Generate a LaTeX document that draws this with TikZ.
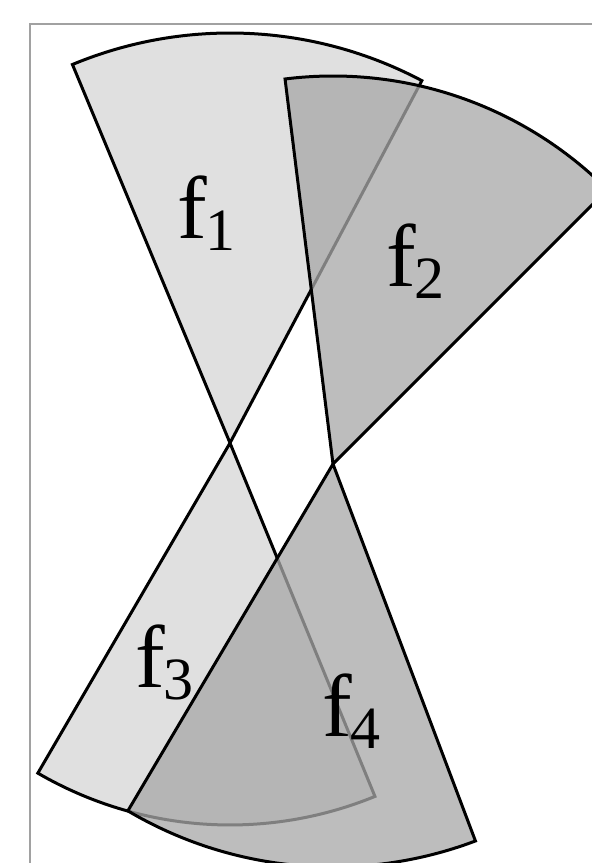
\documentclass[tikz,border=0pt]{standalone}
\usepackage{fontspec}
\setmainfont{Liberation Serif}
\usetikzlibrary{positioning}

\newcommand{\flab}[1]{f\kern-1pt\raisebox{-6pt}{\fontsize{30}{30}\selectfont #1}}

\begin{document}
\begin{tikzpicture}[x=0.5pt, y=0.5pt,
  lightsec/.style={draw=black, line width=1.5pt, line join=miter, fill=black!12},
  darksec/.style={draw=black, line width=1.5pt, line join=miter, fill=black!34, fill opacity=0.76},
  frame/.style={draw=black!37, line width=0.75pt},
  lab/.style={anchor=base west, inner sep=0pt, font=\fontsize{44.5}{50}\selectfont}]

  \useasboundingbox (0,0) rectangle (592,863);
  \clip (0,0) rectangle (592,863);

  \draw[frame] (30,839) rectangle (700,-100);

  % apexes of the two pairs
  \coordinate (apexA) at (230,420);
  \coordinate (apexB) at (333,399);

  % light sectors
  \path[lightsec] (apexA) -- ++(62.1:410) arc[start angle=62.1, end angle=112.6, radius=410] -- cycle;
  \path[lightsec] (apexA) -- ++(239.8:382) arc[start angle=239.8, end angle=292.3, radius=382] -- cycle;

  % dark sectors
  \path[darksec] (apexB) -- ++(45:388) arc[start angle=45, end angle=97.1, radius=388] -- cycle;
  \path[darksec] (apexB) -- ++(239.4:403) arc[start angle=239.4, end angle=290.7, radius=403] -- cycle;

  \node[lab] (f1) at (177,624) {\flab{1}};
  \node[lab] (f2) at (386,576) {\flab{2}};
  \node[lab] (f3) at (135,175) {\flab{3}};
  \node[lab] (f4) at (322,126) {\flab{4}};
\end{tikzpicture}
\end{document}
